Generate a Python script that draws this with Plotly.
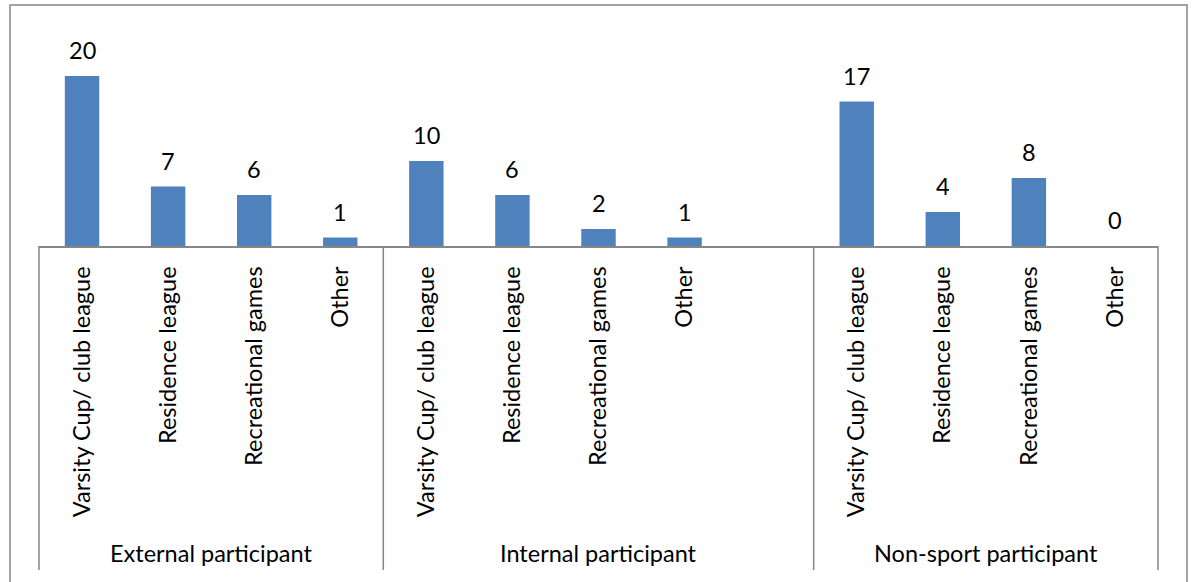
import plotly.graph_objects as go

groups = ["External participant", "Internal participant", "Non-sport participant"]
activities = ["Varsity Cup/ club league", "Residence league", "Recreational games", "Other"]
external = [20, 7, 6, 1]
internal = [10, 6, 2, 1]
nonsport = [17, 4, 8, 0]
group_values = [external, internal, nonsport]
group_slots = [4, 5, 4]  # internal group keeps an empty trailing slot

BAR = "#4F81BD"
GRID = "#878787"
FONT = "Lato"
FS = 23.5

xs, ys, labels = [], [], []
bounds = [-0.5]
start = 0
for g, vals in enumerate(group_values):
    for i, v in enumerate(vals):
        xs.append(start + i)
        ys.append(v)
        labels.append(activities[i])
    start += group_slots[g]
    bounds.append(start - 0.5)
total = start

fig = go.Figure(go.Bar(x=xs, y=ys, marker=dict(color=BAR, line=dict(width=0)),
                       width=0.4, hoverinfo="skip"))

# value labels
for x, y in zip(xs, ys):
    fig.add_annotation(x=x, y=y, text=str(y), showarrow=False, yanchor="middle",
                       yshift=26, font=dict(family=FONT, size=FS, color="black"))

plot_h = 236
# group separators
for b in bounds:
    fig.add_shape(type="line", xref="x domain", yref="paper",
                  x0=(b + 0.5) / total, x1=(b + 0.5) / total,
                  y0=0, y1=-(570 - 246) / plot_h,
                  line=dict(color=GRID, width=1.5))
# group labels
for g in range(len(groups)):
    c = (bounds[g] + bounds[g + 1]) / 2
    fig.add_annotation(x=c, xref="x", y=-(553 - 246) / plot_h, yref="paper",
                       text=groups[g], showarrow=False, yanchor="middle",
                       font=dict(family=FONT, size=FS, color="black"))

# outer border
pw = 1119
fig.add_shape(type="rect", xref="paper", yref="paper",
              x0=(10 - 39) / pw, x1=(1187 - 39) / pw,
              y0=-2.0, y1=1 + 5 / plot_h,
              line=dict(color=GRID, width=1.5), fillcolor="rgba(0,0,0,0)")

fig.update_layout(
    width=1194, height=582,
    margin=dict(l=39, r=36, t=10, b=336),
    paper_bgcolor="white", plot_bgcolor="white",
    showlegend=False,
    font=dict(family=FONT, size=FS, color="black"),
    xaxis=dict(range=[-0.5, total - 0.5], tickvals=xs, ticktext=labels,
               tickangle=-90, showgrid=False, zeroline=False,
               showline=True, linecolor=GRID, linewidth=2,
               ticks="", ticklabelstandoff=9,
               tickfont=dict(family=FONT, size=FS, color="black")),
    yaxis=dict(range=[0, plot_h / 8.5], visible=False, showgrid=False, zeroline=False),
)

fig.write_html("out.html")
